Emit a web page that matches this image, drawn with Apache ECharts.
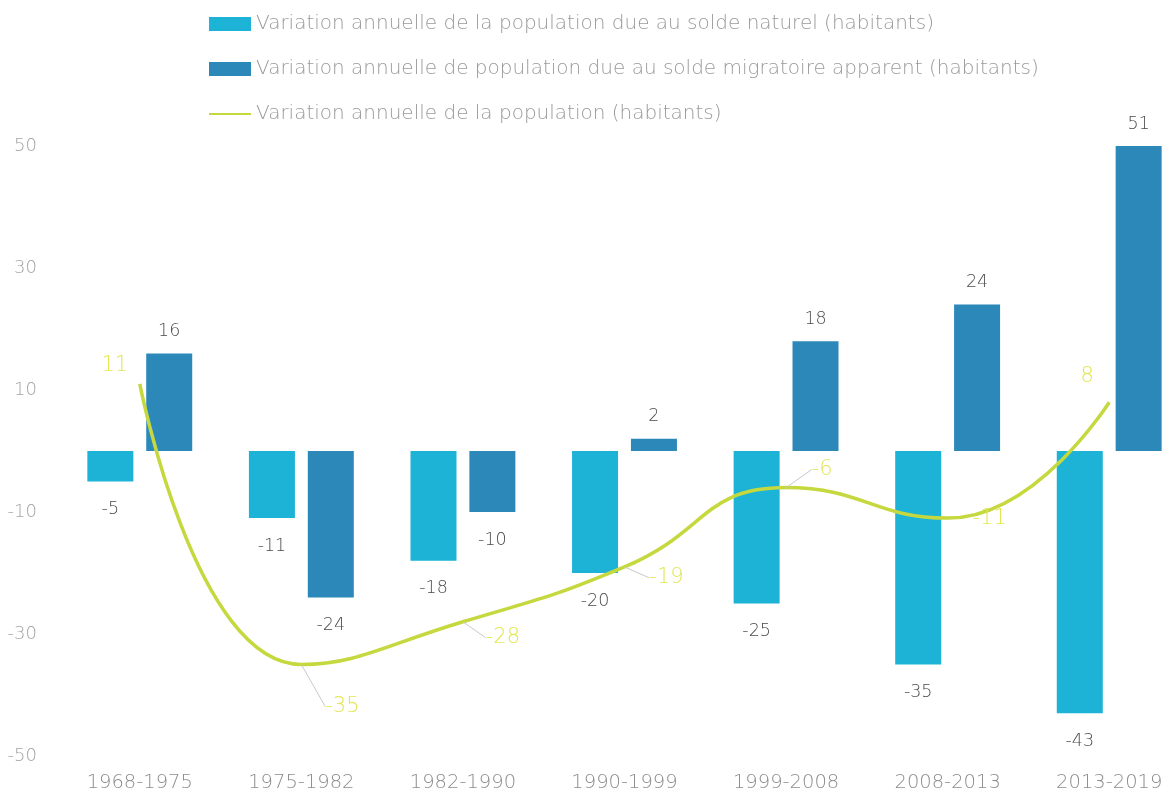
<!DOCTYPE html>
<html>
<head>
<meta charset="utf-8">
<script src="https://cdn.jsdelivr.net/npm/echarts@6/dist/echarts.min.js"></script>
<style>
  html, body { margin: 0; padding: 0; background: #fff; }
  #chart { width: 1168px; height: 798px; }
</style>
</head>
<body>
<div id="chart"></div>
<script>
// données
const periodes = ['1968-1975', '1975-1982', '1982-1990', '1990-1999', '1999-2008', '2008-2013', '2013-2019'];
const soldeNaturel = [-5, -11, -18, -20, -25, -35, -43];
const soldeMigratoire = [16, -24, -10, 2, 18, 24, 51];
const variationTotale = [11, -35, -28, -19, -6, -11, 8];
const yTicks = [-50, -30, -10, 10, 30, 50];

const noms = [
  'Variation annuelle de la population due au solde naturel (habitants)',
  'Variation annuelle de population due au solde migratoire apparent (habitants)',
  'Variation annuelle de la population (habitants)'
];

// décalage des étiquettes de la courbe (px)
const lineLabelShift = [[-25, -18], [41, 42], [40, 16], [42, 11], [36, -18], [42, 0], [-22, -26]];
const withLeader = [false, true, true, true, true, false, false];

const FONT = '"DejaVu Sans", sans-serif';
const W = 200;

// étiquette au-dessus si positif, en dessous si négatif
const barItems = (values) => values.map(v => ({
  value: v,
  label: v >= 0 ? { position: 'top', distance: 13 } : { position: 'bottom', distance: 19 }
}));

const chart = echarts.init(document.getElementById('chart'));

chart.setOption({
  animation: false,
  textStyle: { fontFamily: FONT, fontWeight: W },
  legend: {
    orient: 'vertical',
    left: 203,
    top: 9,
    itemWidth: 42,
    itemHeight: 14,
    itemGap: 25,
    textStyle: { color: '#9a9a9a', fontSize: 20, fontFamily: FONT, fontWeight: W },
    data: [
      { name: noms[0], icon: 'rect' },
      { name: noms[1], icon: 'rect' },
      { name: noms[2], itemStyle: { opacity: 0 } }
    ]
  },
  grid: { left: 59, width: 1131, top: 146, bottom: 42, outerBoundsMode: 'none' },
  xAxis: {
    type: 'category',
    data: periodes,
    axisLine: { show: false },
    axisTick: { show: false },
    axisLabel: { color: '#8c8c8c', fontSize: 19.5, margin: 17, fontFamily: FONT, fontWeight: W }
  },
  yAxis: {
    type: 'value',
    min: -50,
    max: 50,
    interval: 10,
    splitLine: { show: false },
    axisLine: { show: false },
    axisTick: { show: false },
    axisLabel: {
      color: '#a3a3a3',
      fontSize: 18,
      margin: 22,
      fontFamily: FONT,
      fontWeight: W,
      formatter: v => yTicks.indexOf(v) !== -1 ? String(v) : ''
    }
  },
  series: [
    {
      name: noms[0],
      type: 'bar',
      barWidth: 46,
      barGap: '28%',
      itemStyle: { color: '#1cb3d6' },
      label: { show: true, color: '#4a4a4a', fontSize: 17.5, fontFamily: FONT, fontWeight: W },
      data: barItems(soldeNaturel)
    },
    {
      name: noms[1],
      type: 'bar',
      barWidth: 46,
      itemStyle: { color: '#2b88b9' },
      label: { show: true, color: '#4a4a4a', fontSize: 17.5, fontFamily: FONT, fontWeight: W },
      data: barItems(soldeMigratoire)
    },
    {
      name: noms[2],
      type: 'line',
      smooth: 0.5,
      symbol: 'circle',
      symbolSize: 0.1,
      showSymbol: true,
      z: 5,
      lineStyle: { color: '#c5d83e', width: 3.5 },
      itemStyle: { color: '#c5d83e' },
      label: {
        show: true,
        position: 'inside',
        color: '#e2e650',
        fontSize: 21,
        fontFamily: FONT,
        fontWeight: W
      },
      labelLine: { show: true, lineStyle: { color: '#c8c8c8', width: 1 } },
      labelLayout: (p) => ({
        dx: lineLabelShift[p.dataIndex][0],
        dy: lineLabelShift[p.dataIndex][1]
      }),
      data: variationTotale.map((v, i) => ({
        value: v,
        labelLine: { show: withLeader[i] }
      }))
    }
  ]
});
</script>
</body>
</html>
